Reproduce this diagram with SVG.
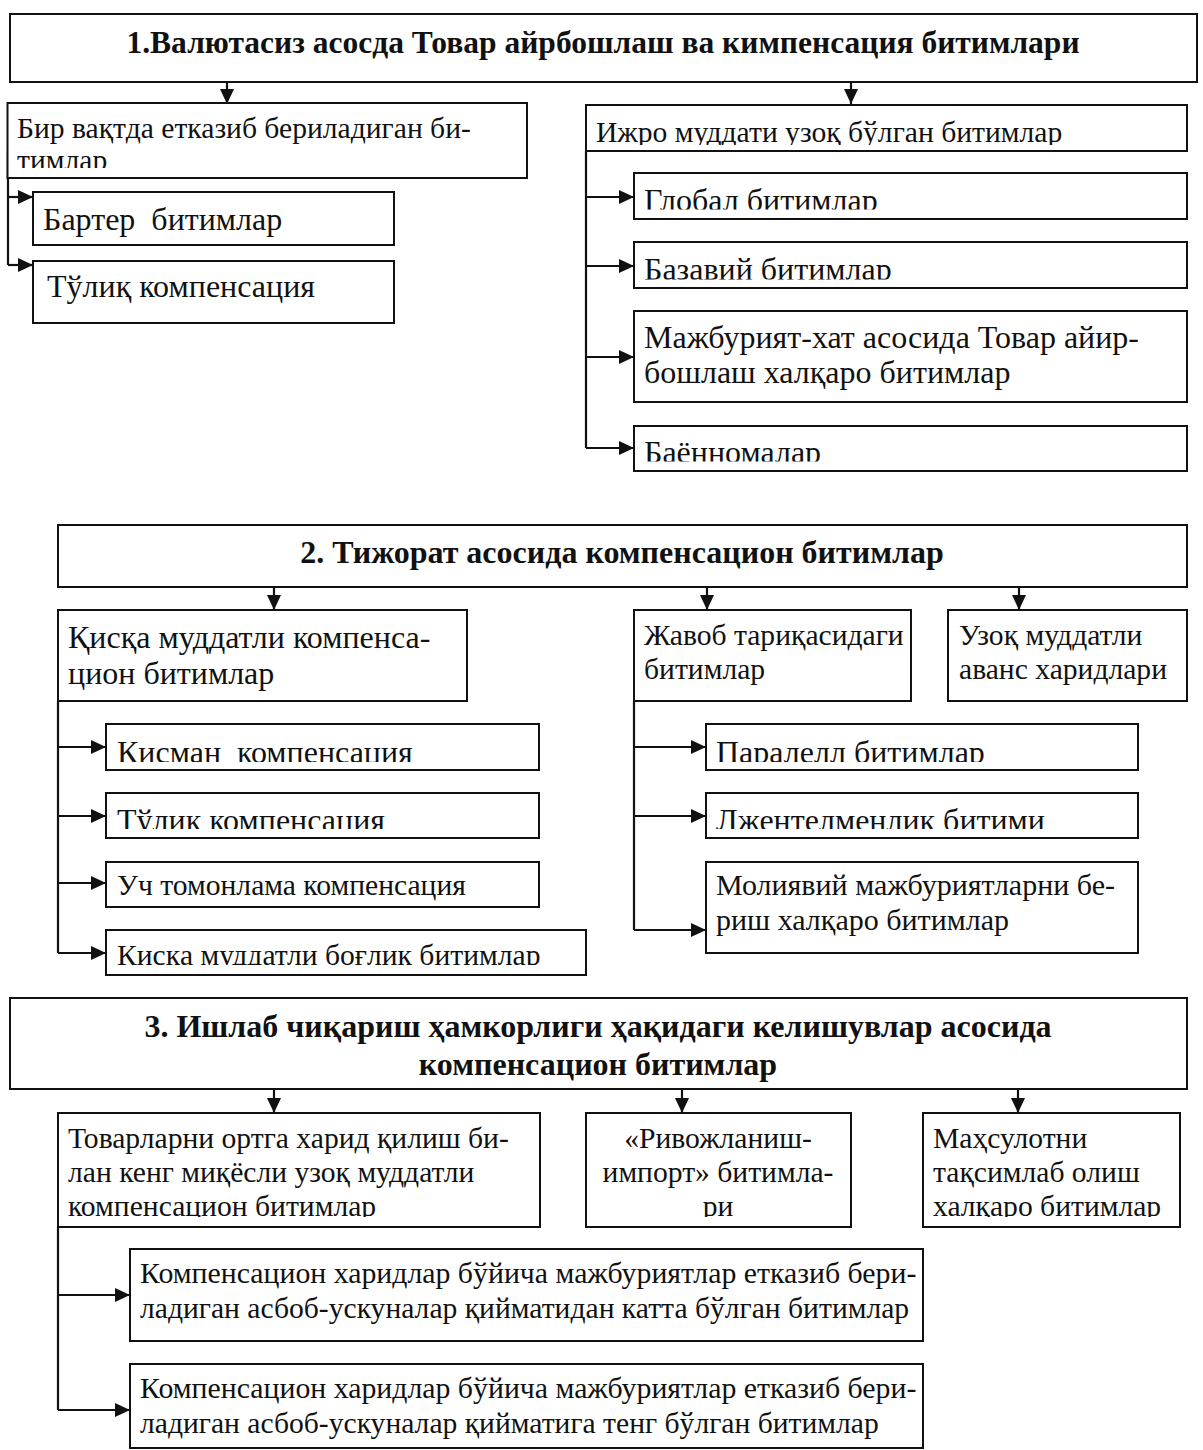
<svg xmlns="http://www.w3.org/2000/svg" width="1203" height="1450" viewBox="0 0 1203 1450">
<style>
.box{fill:#fff;stroke:#111;stroke-width:2}
.ln{fill:none;stroke:#111;stroke-width:2.2}
.t{font-family:"Liberation Serif","Times New Roman",serif;fill:#111;white-space:pre}
.h{font-weight:bold;font-size:32px}
.s{font-size:29.6px}
.m{font-size:32px}
</style>
<defs>
<marker id="ah" markerUnits="userSpaceOnUse" markerWidth="16" markerHeight="14" refX="15" refY="7" orient="auto">
<path d="M0,0 L15,7 L0,14 Z" fill="#111"/>
</marker>
<clipPath id="c1"><rect x="0" y="100" width="540" height="68"/></clipPath>
<clipPath id="c2"><rect x="586" y="100" width="610" height="45"/></clipPath>
<clipPath id="c3"><rect x="634" y="170" width="560" height="39.5"/></clipPath>
<clipPath id="c4"><rect x="634" y="240" width="560" height="39.5"/></clipPath>
<clipPath id="c5"><rect x="634" y="420" width="560" height="41.5"/></clipPath>
<clipPath id="c6"><rect x="106" y="720" width="440" height="42"/></clipPath>
<clipPath id="c7"><rect x="106" y="790" width="440" height="39"/></clipPath>
<clipPath id="c8"><rect x="106" y="925" width="490" height="40"/></clipPath>
<clipPath id="c9"><rect x="706" y="720" width="440" height="42"/></clipPath>
<clipPath id="c10"><rect x="706" y="790" width="440" height="39"/></clipPath>
<clipPath id="c11"><rect x="58" y="1110" width="1140" height="107"/></clipPath>
</defs>

<g id="connectors">
<line class="ln" x1="227" y1="82" x2="227" y2="104" marker-end="url(#ah)"/>
<line class="ln" x1="851" y1="82" x2="851" y2="104" marker-end="url(#ah)"/>
<polyline class="ln" points="8,151 8,265"/>
<line class="ln" x1="8" y1="197" x2="33" y2="197" marker-end="url(#ah)"/>
<line class="ln" x1="8" y1="265" x2="33" y2="265" marker-end="url(#ah)"/>
<polyline class="ln" points="586,151 586,448"/>
<line class="ln" x1="586" y1="197" x2="634" y2="197" marker-end="url(#ah)"/>
<line class="ln" x1="586" y1="266" x2="634" y2="266" marker-end="url(#ah)"/>
<line class="ln" x1="586" y1="357" x2="634" y2="357" marker-end="url(#ah)"/>
<line class="ln" x1="586" y1="448" x2="634" y2="448" marker-end="url(#ah)"/>

<line class="ln" x1="274" y1="587" x2="274" y2="610" marker-end="url(#ah)"/>
<line class="ln" x1="707" y1="587" x2="707" y2="610" marker-end="url(#ah)"/>
<line class="ln" x1="1019" y1="587" x2="1019" y2="610" marker-end="url(#ah)"/>
<polyline class="ln" points="58,701 58,953"/>
<line class="ln" x1="58" y1="747" x2="106" y2="747" marker-end="url(#ah)"/>
<line class="ln" x1="58" y1="816" x2="106" y2="816" marker-end="url(#ah)"/>
<line class="ln" x1="58" y1="883" x2="106" y2="883" marker-end="url(#ah)"/>
<line class="ln" x1="58" y1="953" x2="106" y2="953" marker-end="url(#ah)"/>
<polyline class="ln" points="634,701 634,930"/>
<line class="ln" x1="634" y1="747" x2="706" y2="747" marker-end="url(#ah)"/>
<line class="ln" x1="634" y1="816" x2="706" y2="816" marker-end="url(#ah)"/>
<line class="ln" x1="634" y1="930" x2="706" y2="930" marker-end="url(#ah)"/>

<line class="ln" x1="274" y1="1089" x2="274" y2="1113" marker-end="url(#ah)"/>
<line class="ln" x1="682" y1="1089" x2="682" y2="1113" marker-end="url(#ah)"/>
<line class="ln" x1="1018" y1="1089" x2="1018" y2="1113" marker-end="url(#ah)"/>
<polyline class="ln" points="58,1227 58,1410"/>
<line class="ln" x1="58" y1="1295" x2="130" y2="1295" marker-end="url(#ah)"/>
<line class="ln" x1="58" y1="1410" x2="130" y2="1410" marker-end="url(#ah)"/>
</g>

<g id="title1"><rect class="box" x="10" y="14" width="1187" height="68"/>
<text class="t h" x="603" y="53" text-anchor="middle" style="font-size:31.5px">1.Валютасиз асосда Товар айрбошлаш ва кимпенсация битимлари</text></g>

<g id="n-bir"><rect class="box" x="7.5" y="103" width="519.5" height="75"/>
<g clip-path="url(#c1)"><text class="t s" x="17" y="138">Бир вақтда етказиб бериладиган би-</text>
<text class="t s" x="17" y="170">тимлар</text></g></g>
<g id="n-barter"><rect class="box" x="33" y="192" width="361" height="53"/>
<text class="t m" x="43" y="230">Бартер  битимлар</text></g>
<g id="n-tulik1"><rect class="box" x="33" y="261" width="361" height="62"/>
<text class="t m" x="47" y="297">Тўлиқ компенсация</text></g>

<g id="n-ijro"><rect class="box" x="586" y="105" width="601" height="46"/>
<text class="t s" x="596" y="142" clip-path="url(#c2)">Ижро муддати узоқ бўлган битимлар</text></g>
<g id="n-global"><rect class="box" x="634" y="173" width="553" height="46"/>
<text class="t m" x="644" y="211" clip-path="url(#c3)">Глобал битимлар</text></g>
<g id="n-bazaviy"><rect class="box" x="634" y="242" width="553" height="46"/>
<text class="t m" x="644" y="280" clip-path="url(#c4)">Базавий битимлар</text></g>
<g id="n-majburiyat"><rect class="box" x="634" y="311" width="553" height="91"/>
<text class="t m" x="644" y="348">Мажбурият-хат асосида Товар айир-</text>
<text class="t m" x="644" y="383">бошлаш халқаро битимлар</text></g>
<g id="n-bayonnoma"><rect class="box" x="634" y="426" width="553" height="45"/>
<text class="t m" x="644" y="463" clip-path="url(#c5)">Баённомалар</text></g>

<g id="title2"><rect class="box" x="58" y="525" width="1129" height="62"/>
<text class="t h" x="622" y="563" text-anchor="middle">2. Тижорат асосида компенсацион битимлар</text></g>

<g id="n-qisqa"><rect class="box" x="58" y="610" width="409" height="91"/>
<text class="t m" x="68" y="648">Қисқа муддатли компенса-</text>
<text class="t m" x="68" y="684">цион битимлар</text></g>
<g id="n-javob"><rect class="box" x="634" y="610" width="277" height="91"/>
<text class="t s" x="644" y="645">Жавоб тариқасидаги</text>
<text class="t s" x="644" y="679">битимлар</text></g>
<g id="n-uzoq"><rect class="box" x="948" y="610" width="239" height="91"/>
<text class="t s" x="959" y="645">Узоқ муддатли</text>
<text class="t s" x="959" y="679">аванс харидлари</text></g>

<g id="n-kisman"><rect class="box" x="106" y="724" width="433" height="46"/>
<text class="t m" x="117" y="763" clip-path="url(#c6)">Кисман  компенсация</text></g>
<g id="n-tulik2"><rect class="box" x="106" y="793" width="433" height="45"/>
<text class="t m" x="117" y="831" clip-path="url(#c7)">Тўлик компенсация</text></g>
<g id="n-uch"><rect class="box" x="106" y="862" width="433" height="45"/>
<text class="t s" x="117" y="895">Уч томонлама компенсация</text></g>
<g id="n-boglik"><rect class="box" x="106" y="930" width="480" height="45"/>
<text class="t s" x="117" y="965" clip-path="url(#c8)">Қисқа муддатли боғлиқ битимлар</text></g>

<g id="n-parallel"><rect class="box" x="706" y="724" width="432" height="46"/>
<text class="t m" x="716" y="763" clip-path="url(#c9)">Паралелл битимлар</text></g>
<g id="n-jentlmen"><rect class="box" x="706" y="793" width="432" height="45"/>
<text class="t m" x="716" y="831" clip-path="url(#c10)">Лжентелменлик битими</text></g>
<g id="n-moliyaviy"><rect class="box" x="706" y="862" width="432" height="91"/>
<text class="t s" x="716" y="895" style="font-size:30px">Молиявий мажбуриятларни бе-</text>
<text class="t s" x="716" y="930" style="font-size:30px">риш халқаро битимлар</text></g>

<g id="title3"><rect class="box" x="10" y="998" width="1177" height="91"/>
<text class="t h" x="598" y="1037" text-anchor="middle">3. Ишлаб чиқариш ҳамкорлиги ҳақидаги келишувлар асосида</text>
<text class="t h" x="598" y="1075" text-anchor="middle">компенсацион битимлар</text></g>

<g id="n-tovar"><rect class="box" x="58" y="1113" width="482" height="114"/>
<g clip-path="url(#c11)"><text class="t s" x="68" y="1148">Товарларни ортга харид қилиш би-</text>
<text class="t s" x="68" y="1182">лан кенг миқёсли узоқ муддатли</text>
<text class="t s" x="68" y="1216">компенсацион битимлар</text></g></g>
<g id="n-rivoj"><rect class="box" x="586" y="1113" width="265" height="114"/>
<g clip-path="url(#c11)"><text class="t s" x="718" y="1148" text-anchor="middle">«Ривожланиш-</text>
<text class="t s" x="718" y="1182" text-anchor="middle">импорт» битимла-</text>
<text class="t s" x="718" y="1216" text-anchor="middle">ри</text></g></g>
<g id="n-mahsulot"><rect class="box" x="923" y="1113" width="257" height="114"/>
<g clip-path="url(#c11)"><text class="t s" x="933" y="1148">Маҳсулотни</text>
<text class="t s" x="933" y="1182">тақсимлаб олиш</text>
<text class="t s" x="933" y="1216">халқаро битимлар</text></g></g>

<g id="n-katta"><rect class="box" x="130" y="1249" width="793" height="92"/>
<text class="t s" x="140" y="1283" style="font-size:29.8px">Компенсацион харидлар бўйича мажбуриятлар етказиб бери-</text>
<text class="t s" x="140" y="1318">ладиган асбоб-ускуналар қийматидан катта бўлган битимлар</text></g>
<g id="n-teng"><rect class="box" x="130" y="1364" width="793" height="84"/>
<text class="t s" x="140" y="1398" style="font-size:29.8px">Компенсацион харидлар бўйича мажбуриятлар етказиб бери-</text>
<text class="t s" x="140" y="1433">ладиган асбоб-ускуналар қийматига тенг бўлган битимлар</text></g>
</svg>
